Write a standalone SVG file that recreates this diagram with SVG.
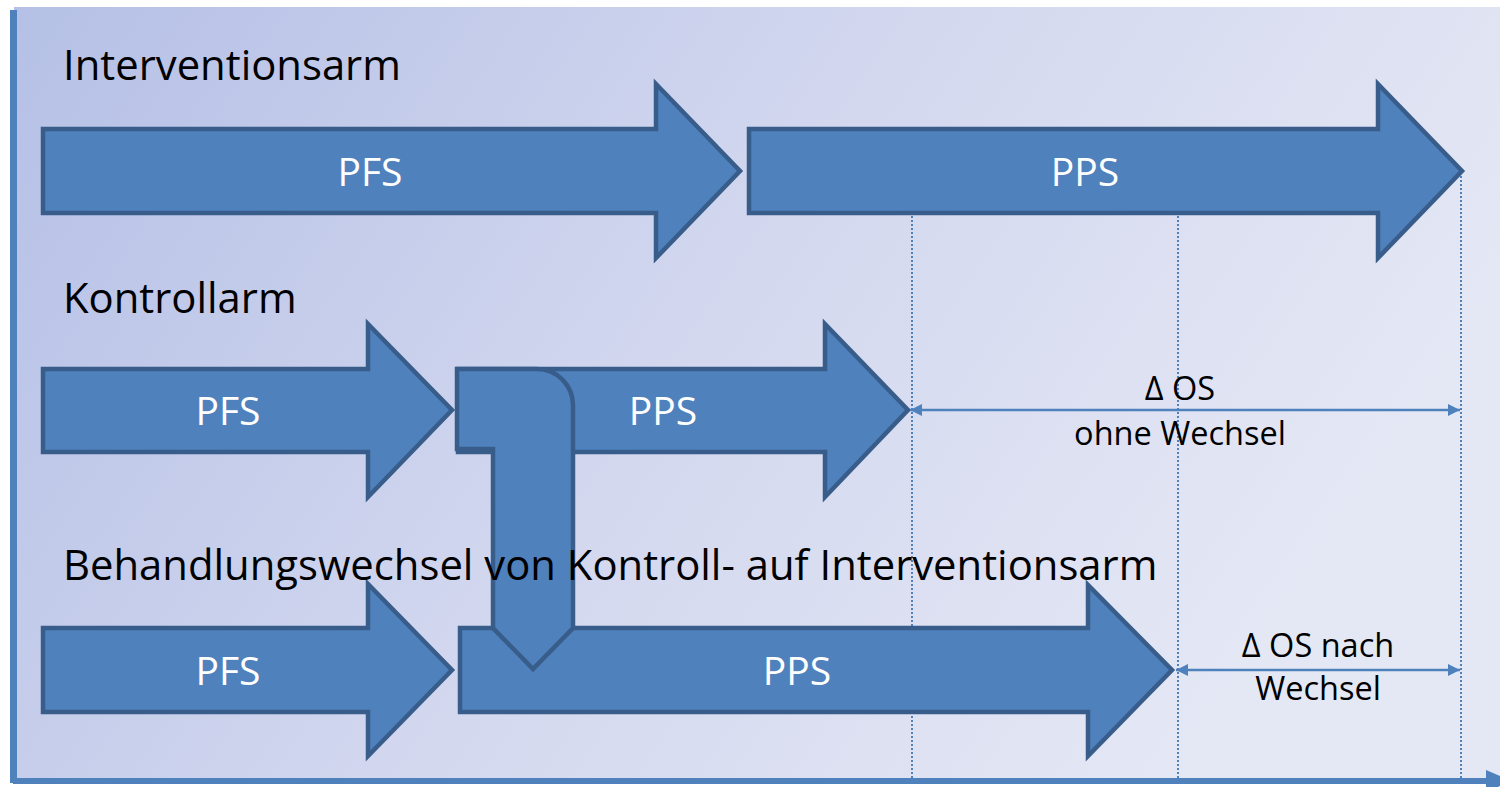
<svg xmlns="http://www.w3.org/2000/svg" width="1500" height="787" viewBox="0 0 1500 787">
  <defs>
    <linearGradient id="bg" x1="0" y1="0" x2="1" y2="0.35">
      <stop offset="0" stop-color="#b5c0e6"/>
      <stop offset="0.55" stop-color="#d3d8ef"/>
      <stop offset="1" stop-color="#e4e7f4"/>
    </linearGradient>
    <marker id="tri" viewBox="0 0 12 12" refX="12" refY="6" markerWidth="12" markerHeight="12" markerUnits="userSpaceOnUse" orient="auto-start-reverse">
      <path d="M0,0 L12,6 L0,12 Z" fill="#4f81bd"/>
    </marker>
    <style>
      .blk { fill: #4f81bd; stroke: #385d8a; stroke-width: 4.5; stroke-linejoin: miter; }
      .title { font-family: "Open Sans", "Noto Sans", sans-serif; font-size: 41.8px; fill: #000; }
      .lbl { font-family: "Open Sans", "Noto Sans", sans-serif; font-size: 39px; fill: #fff; text-anchor: middle; }
      .dim { font-family: "Open Sans", "Noto Sans", sans-serif; font-size: 32.5px; fill: #000; text-anchor: middle; }
      .guide { stroke: #4f81bd; stroke-width: 2; stroke-dasharray: 2 2; fill: none; }
      .span { stroke: #4f81bd; stroke-width: 2.5; fill: none; marker-start: url(#tri); marker-end: url(#tri); }
    </style>
  </defs>

  <!-- backdrop -->
  <rect x="0" y="0" width="1500" height="787" fill="#ffffff"/>
  <rect x="14" y="7" width="1486" height="772" fill="url(#bg)"/>

  <!-- axes -->
  <g id="axes" fill="#4f81bd">
    <rect x="10" y="10" width="7" height="773"/>
    <rect x="13" y="778" width="1476" height="6"/>
    <path d="M1486,770 L1512,781 L1486,792 Z"/>
  </g>

  <!-- dotted guide lines -->
  <g id="guides">
    <line class="guide" x1="912" y1="212" x2="912" y2="778"/>
    <line class="guide" x1="1178" y1="212" x2="1178" y2="778"/>
    <line class="guide" x1="1461" y1="172" x2="1461" y2="778"/>
  </g>

  <!-- section titles -->
  <g id="titles">
    <text class="title" x="63" y="80">Interventionsarm</text>
    <text class="title" x="63" y="313">Kontrollarm</text>
  </g>

  <!-- row 1: intervention arm -->
  <g id="int-pfs">
    <polygon class="blk" points="43,129 656,129 656,84 740,171 656,258 656,213 43,213"/>
    <text class="lbl" x="370" y="186">PFS</text>
  </g>
  <g id="int-pps">
    <polygon class="blk" points="749,129 1378,129 1378,84 1462,171 1378,258 1378,213 749,213"/>
    <text class="lbl" x="1085" y="186">PPS</text>
  </g>

  <!-- row 2: control arm -->
  <g id="ctl-pfs">
    <polygon class="blk" points="43,369 368,369 368,324 452,410 368,497 368,452 43,452"/>
    <text class="lbl" x="228" y="425">PFS</text>
  </g>
  <g id="ctl-pps">
    <polygon class="blk" points="458,369 825,369 825,324 908,410 825,497 825,452 458,452"/>
    <text class="lbl" x="663" y="425">PPS</text>
  </g>

  <!-- row 3: switch from control to intervention -->
  <g id="sw-pfs">
    <polygon class="blk" points="43,628 368,628 368,584 452,670 368,756 368,712 43,712"/>
    <text class="lbl" x="228" y="685">PFS</text>
  </g>
  <g id="sw-pps">
    <polygon class="blk" points="460,628 1088,628 1088,585 1172,670 1088,756 1088,712 460,712"/>
    <text class="lbl" x="797" y="685">PPS</text>
  </g>

  <!-- bent switch arrow -->
  <g id="switch">
    <path class="blk" d="M457,369 H537 A36,36 0 0 1 573,405 V628 L533,669 L493,628 V449 H457 Z"/>
  </g>

  <g id="switch-title">
    <text class="title" x="63" y="580">Behandlungswechsel von Kontroll- auf Interventionsarm</text>
  </g>

  <!-- overall survival spans -->
  <g id="connectors">
    <line class="span" x1="910" y1="410" x2="1460" y2="410"/>
    <line class="span" x1="1176" y1="670" x2="1460" y2="670"/>
  </g>
  <g id="os-without">
    <text class="dim" x="1180" y="400">Δ OS</text>
    <text class="dim" x="1180" y="445">ohne Wechsel</text>
  </g>
  <g id="os-after">
    <text class="dim" x="1318" y="657">Δ OS nach</text>
    <text class="dim" x="1318" y="700">Wechsel</text>
  </g>
</svg>
